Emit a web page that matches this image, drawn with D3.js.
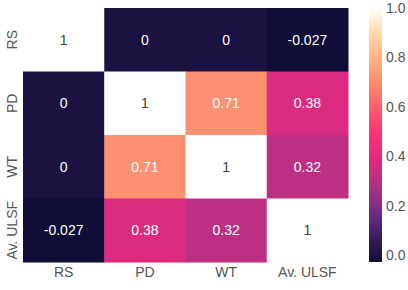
<!DOCTYPE html>
<html><head><meta charset="utf-8">
<script src="https://cdn.jsdelivr.net/npm/d3@7"></script>
<style>body{margin:0;background:#fff;}svg{display:block;font-family:"Liberation Sans",Arial,sans-serif;}</style>
</head><body>
<script>
const labels = ["RS", "PD", "WT", "Av. ULSF"];
const matrix = [
  [1, 0, 0, -0.027],
  [0, 1, 0.71, 0.38],
  [0, 0.71, 1, 0.32],
  [-0.027, 0.38, 0.32, 1]
];
const annot = [
  ["1", "0", "0", "-0.027"],
  ["0", "1", "0.71", "0.38"],
  ["0", "0.71", "1", "0.32"],
  ["-0.027", "0.38", "0.32", "1"]
];
const cbTicks = [0.0, 0.2, 0.4, 0.6, 0.8, 1.0];
const vmin = -0.027, vmax = 1;
// colormap stops sampled from the reference colorbar
const cmapStops = ["#100d38", "#3a1f5e", "#772c80", "#a93386", "#dc2b80", "#fb3277",
                   "#fd5a6c", "#fc8a6d", "#ffb286", "#ffd9a8", "#ffffff"];

(function () {
const W = 408, H = 290;
const svg = d3.select("body").append("svg").attr("width", W).attr("height", H);
const mLeft = 23, mRight = 348, mTop = 8, mBottom = 262;
const x = d3.scaleBand().domain(labels).range([mLeft, mRight]);
const y = d3.scaleBand().domain(labels).range([mTop, mBottom]);
const interp = d3.piecewise(d3.interpolateRgb, cmapStops);
const color = d3.scaleSequential(interp).domain([vmin, vmax]);

const cells = [];
matrix.forEach((row, i) => row.forEach((v, j) => cells.push({i, j, v, t: annot[i][j]})));

svg.selectAll("rect.cell").data(cells).join("rect")
  .attr("x", d => x(labels[d.j])).attr("y", d => y(labels[d.i]))
  .attr("width", x.bandwidth() + 0.5).attr("height", y.bandwidth() + 0.5)
  .attr("fill", d => color(d.v));

svg.selectAll("text.ann").data(cells).join("text")
  .attr("x", d => x(labels[d.j]) + x.bandwidth() / 2)
  .attr("y", d => y(labels[d.i]) + y.bandwidth() / 2)
  .attr("text-anchor", "middle").attr("dominant-baseline", "central")
  .attr("font-size", 14)
  .attr("fill", d => d.v > 0.9 ? "#444444" : "#ffffff")
  .text(d => d.t);

svg.selectAll("text.xl").data(labels).join("text")
  .attr("x", d => x(d) + x.bandwidth() / 2).attr("y", 272)
  .attr("text-anchor", "middle").attr("dominant-baseline", "central")
  .attr("font-size", 14).attr("fill", "#555").text(d => d);

svg.selectAll("text.yl").data(labels).join("text")
  .attr("transform", d => `translate(12,${y(d) + y.bandwidth() / 2}) rotate(-90)`)
  .attr("text-anchor", "middle").attr("dominant-baseline", "central")
  .attr("font-size", 14).attr("fill", "#555").text(d => d);

const cbX = 369, cbW = 13;
const cy = d3.scaleLinear().domain([vmin, vmax]).range([mBottom, mTop]);
const defs = svg.append("defs");
const grad = defs.append("linearGradient").attr("id", "cbg")
  .attr("x1", 0).attr("y1", 1).attr("x2", 0).attr("y2", 0);
d3.range(0, 1.0001, 0.02).forEach(t => grad.append("stop").attr("offset", t).attr("stop-color", interp(t)));
svg.append("rect").attr("x", cbX).attr("y", mTop).attr("width", cbW).attr("height", mBottom - mTop).attr("fill", "url(#cbg)");

svg.selectAll("text.cb").data(cbTicks).join("text")
  .attr("x", 386).attr("y", d => cy(d))
  .attr("dominant-baseline", "central").attr("font-size", 14).attr("fill", "#555")
  .text(d => d.toFixed(1));
})();
</script>
</body></html>
